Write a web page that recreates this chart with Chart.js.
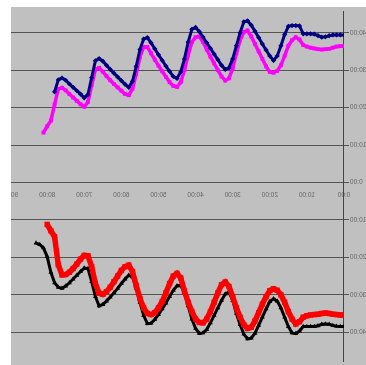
<!DOCTYPE html>
<html>
<head>
<meta charset="utf-8">
<script src="https://cdn.jsdelivr.net/npm/chart.js@4.4.1/dist/chart.umd.min.js"></script>
<style>
  html, body { margin: 0; padding: 0; background: #fff; }
  /* the reference is a mirrored screenshot, so the whole plot is flipped */
  #frame {
    position: absolute; left: 11px; top: 7px;
    width: 355px; height: 358px;
    overflow: hidden; background: #c0c0c0;
    transform: scaleX(-1);
  }
</style>
</head>
<body>
<div id="frame"><canvas id="chart" width="380" height="358"></canvas></div>
<script>
// elapsed time (minutes)
const minutes = [
  0, 1, 2, 3, 4, 5, 6, 7, 8, 9, 10, 11, 12, 13, 14, 15, 16, 17, 18, 19,
  20, 21, 22, 23, 24, 25, 26, 27, 28, 29, 30, 31, 32, 33, 34, 35, 36, 37, 38, 39,
  40, 41, 42, 43, 44, 45, 46, 47, 48, 49, 50, 51, 52, 53, 54, 55, 56, 57, 58, 59,
  60, 61, 62, 63, 64, 65, 66, 67, 68, 69, 70, 71, 72, 73, 74, 75, 76, 77, 78, 79,
  80, 81, 82, 83
];

// upper panel
const navySeries = [
  39.4, 39.4, 39.4, 39.4, 39.2, 38.9, 38.8, 39.2, 39.6, 39.7, 39.7, 39.7, 41.8, 41.9, 41.9, 41.7, 39.5, 36.5, 33.8, 32.6,
  33.8, 35.4, 37.0, 38.7, 40.4, 42.0, 43.2, 42.9, 40.0, 36.5, 33.0, 30.6, 30.2, 31.3, 32.8, 34.3, 35.8, 37.3, 38.8, 40.3,
  41.4, 40.9, 37.5, 33.0, 29.5, 27.8, 28.3, 29.7, 31.1, 32.6, 34.1, 35.7, 37.3, 38.7, 38.3, 35.5, 31.0, 27.0, 25.4, 26.2,
  27.2, 28.2, 29.2, 30.2, 31.3, 32.4, 33.1, 32.5, 28.0, 23.5, 22.6, 23.6, 24.5, 25.4, 26.3, 27.3, 27.9, 27.4, 24.2
];
const magentaSeries = [
  36.4, 36.4, 36.3, 36.0, 35.7, 35.6, 35.5, 35.6, 35.8, 36.0, 36.3, 36.7, 38.2, 38.8, 38.0, 36.5, 33.8, 31.3, 29.8, 29.3,
  29.5, 31.0, 33.0, 35.0, 37.0, 39.0, 40.6, 40.2, 38.0, 34.5, 30.5, 27.8, 27.2, 28.3, 30.0, 31.8, 33.6, 35.5, 37.5, 39.0,
  38.8, 37.5, 34.0, 30.0, 26.8, 25.5, 25.8, 26.8, 28.2, 29.7, 31.2, 32.8, 34.5, 36.2, 36.2, 33.5, 29.0, 25.0, 23.3, 23.6,
  24.5, 25.4, 26.3, 27.3, 28.4, 29.6, 30.6, 30.2, 26.0, 21.5, 20.2, 20.9, 21.8, 22.7, 23.6, 24.6, 25.3, 25.0, 20.8, 16.5,
  15.0, 13.3
];

// lower panel (plotted below zero)
const redSeries = [
  -35.5, -35.4, -35.3, -35.2, -35.0, -34.9, -35.0, -35.2, -35.3, -35.4, -35.6, -36.0, -37.2, -37.8, -36.5, -34.5, -32.0, -30.0, -28.8, -28.4,
  -28.9, -30.5, -32.5, -34.8, -37.0, -38.7, -39.0, -38.0, -36.0, -33.5, -30.5, -27.8, -26.6, -27.3, -29.5, -32.0, -34.5, -36.5, -37.5, -37.4,
  -36.5, -34.5, -32.0, -29.0, -25.5, -24.3, -25.0, -27.0, -29.5, -31.8, -33.5, -34.8, -35.3, -35.0, -33.5, -31.0, -27.5, -23.8, -22.1, -22.5,
  -23.5, -25.0, -26.5, -28.0, -29.2, -29.9, -29.6, -27.0, -22.5, -19.6, -19.5, -20.5, -21.8, -23.0, -24.0, -24.6, -24.7, -22.0, -14.5, -12.9,
  -11.2
];
const blackSeries = [
  -38.5, -38.5, -38.4, -38.2, -37.9, -37.8, -37.9, -38.3, -38.5, -38.5, -38.5, -38.5, -39.7, -40.4, -40.2, -38.5, -36.0, -33.5, -31.7, -31.1,
  -31.8, -33.8, -36.0, -38.2, -40.3, -41.6, -41.8, -40.5, -38.0, -35.0, -31.5, -29.3, -29.8, -31.5, -33.5, -35.5, -37.5, -39.3, -40.2, -40.3,
  -39.0, -36.5, -33.0, -29.5, -27.5, -27.6, -28.8, -30.5, -32.2, -33.8, -35.3, -36.6, -37.6, -37.7, -35.5, -32.0, -28.3, -25.2, -24.8, -25.8,
  -27.0, -28.3, -29.5, -30.6, -31.7, -32.6, -33.0, -30.5, -26.5, -23.0, -22.9, -23.8, -24.8, -25.8, -26.8, -27.7, -28.3, -28.0, -26.8, -24.0,
  -19.8, -17.5, -16.6, -16.2
];

const xTickValues = [0, 10, 20, 30, 40, 50, 60, 70, 80, 90];
const xTickLabels = ['0:00', '10:00', '20:00', '30:00', '40:00', '50:00', '60:00', '70:00', '80:00', '90:00'];
const yTickValues = [-40, -30, -20, -10, 0, 10, 20, 30, 40];
const yTickLabels = ['40:00', '30:00', '20:00', '10:00', '0:00', '10:00', '20:00', '30:00', '40:00'];

const toPoints = values => values.map((v, i) => ({ x: minutes[i], y: v }));

const lineColor = '#555';
const tickFont = { family: 'Liberation Sans', size: 6.5 };

function noPadding(scale) {
  scale.paddingTop = 0;
  scale.paddingBottom = 0;
  scale.paddingLeft = 0;
  scale.paddingRight = 0;
}

new Chart(document.getElementById('chart'), {
  type: 'line',
  data: {
    datasets: [
      {
        label: 'navy',
        data: toPoints(navySeries),
        borderColor: '#000080', backgroundColor: '#000080',
        borderWidth: 3, pointStyle: 'rectRot', pointRadius: 2.6, pointBorderWidth: 0
      },
      {
        label: 'magenta',
        data: toPoints(magentaSeries),
        borderColor: '#ff00ff', backgroundColor: '#ff00ff',
        borderWidth: 3.5, pointStyle: 'rect', pointRadius: 2.7, pointBorderWidth: 0
      },
      {
        label: 'red',
        data: toPoints(redSeries),
        borderColor: '#ff0000', backgroundColor: '#ff0000',
        borderWidth: 5.5, pointStyle: 'rect', pointRadius: 3.8, pointBorderWidth: 0
      },
      {
        label: 'black',
        data: toPoints(blackSeries),
        borderColor: '#000000', backgroundColor: '#000000',
        borderWidth: 3, pointStyle: 'triangle', pointRadius: 2.8, pointBorderWidth: 0
      }
    ]
  },
  options: {
    responsive: false,
    animation: false,
    layout: { padding: 0 },
    plugins: { legend: { display: false }, tooltip: { enabled: false } },
    scales: {
      x: {
        type: 'linear',
        position: { y: 0 },
        min: 0,
        max: 95.4,
        afterFit: noPadding,
        afterBuildTicks: scale => { scale.ticks = xTickValues.map(v => ({ value: v })); },
        grid: { display: false },
        border: { display: true, color: lineColor, width: 1 },
        ticks: {
          autoSkip: false, maxRotation: 0, padding: 1,
          color: '#666', font: tickFont,
          callback: v => xTickLabels[xTickValues.indexOf(v)]
        }
      },
      y: {
        position: 'left',
        min: -47.7,
        max: 45.8,
        afterFit: scale => { noPadding(scale); scale.width = 22; },
        afterBuildTicks: scale => { scale.ticks = yTickValues.map(v => ({ value: v })); },
        grid: { color: lineColor, lineWidth: 1, tickLength: 5, tickColor: lineColor },
        border: { display: true, color: '#444', width: 1 },
        ticks: {
          padding: 1,
          color: '#666', font: tickFont,
          callback: v => yTickLabels[yTickValues.indexOf(v)]
        }
      }
    }
  }
});
</script>
</body>
</html>
